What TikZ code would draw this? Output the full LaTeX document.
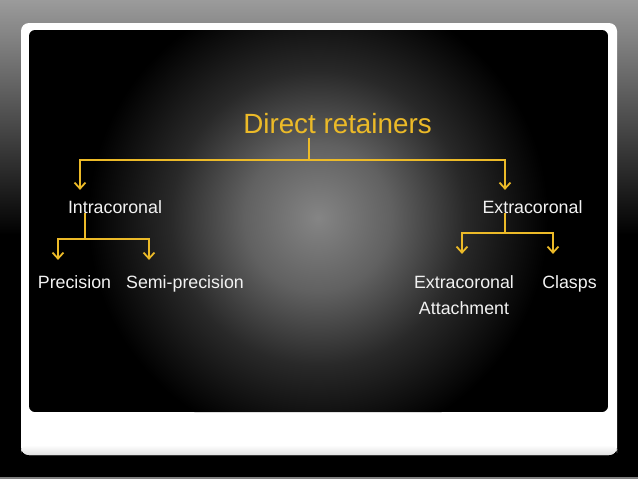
\documentclass[tikz,border=0pt]{standalone}
\usepackage{fontspec}
\setmainfont{Liberation Sans}
\usetikzlibrary{arrows.meta,calc}
\definecolor{gold}{RGB}{236,186,40}
\definecolor{bgtop}{RGB}{155,155,155}
\definecolor{txt}{RGB}{242,242,242}
\pgfdeclareradialshading{glow}{\pgfpoint{0bp}{0bp}}{rgb(0bp)=(0.52,0.52,0.52); rgb(8bp)=(0.38,0.38,0.38); rgb(16bp)=(0.16,0.16,0.16); rgb(25bp)=(0,0,0); rgb(50bp)=(0,0,0)}
\tikzset{
  lbl/.style={text=txt, font=\fontsize{17.8}{26}\selectfont, inner sep=0pt, anchor=base, align=center},
  ttl/.style={text=gold, font=\fontsize{27.8}{32}\selectfont, inner sep=0pt, anchor=base},
  conn/.style={draw=gold, line width=1.8pt},
  arr/.style={conn, -{Straight Barb[length=6pt,width=11pt,line width=1.8pt]}},
}
\begin{document}
\begin{tikzpicture}[x=1pt,y=-1pt]
\useasboundingbox (0,0) rectangle (638,479);
% background
\shade[top color=bgtop, bottom color=black] (0,0) rectangle (638,235);
\fill[black] (0,234) rectangle (638,477);
\fill[gray] (0,477) rectangle (638,479);
% white card
\fill[white, rounded corners=8pt] (21,23) rectangle (617,455);
\shade[top color=white, bottom color=black!12, rounded corners=8pt] (21,445) rectangle (617,455);
% inner black panel with glow
\begin{scope}
  \clip[rounded corners=6pt] (29,30) rectangle (608,412);
  \fill[black] (29,30) rectangle (608,412);
  \shade[shading=glow] (318,218) circle (230pt);
\end{scope}
% nodes
\node[ttl] (title) at (337.5,133) {Direct retainers};
\node[lbl] (intra) at (115,213) {Intracoronal};
\node[lbl] (extra) at (532.5,213) {Extracoronal};
\node[lbl] (prec) at (74.5,288) {Precision};
\node[lbl] (semi) at (185,288) {Semi-precision};
\node[lbl] (eca) at (464,314) {Extracoronal\\Attachment};
\node[lbl] (clasps) at (569.5,288) {Clasps};
% junction coordinates
\coordinate (jT) at (309,160);
\coordinate (aI) at (80,160);
\coordinate (aE) at (505,160);
\coordinate (jI) at (85,239);
\coordinate (aP) at (58,239);
\coordinate (aS) at (149,239);
\coordinate (jE) at (505,233);
\coordinate (aA) at (462,233);
\coordinate (aC) at (553,233);
% connectors
\draw[conn] ([yshift=-5pt]title.south -| jT) -- (jT);
\draw[arr, shorten >=10pt] (jT) -| (aI |- intra.north);
\draw[arr, shorten >=10pt] (jT) -| (aE |- extra.north);
\draw[conn] (intra.base -| jI) -- (jI);
\draw[arr, shorten >=15pt] (jI) -| (aP |- prec.north);
\draw[arr, shorten >=15pt] (jI) -| (aS |- semi.north);
\draw[conn] (extra.base -| jE) -- (jE);
\draw[arr, shorten >=21pt] (jE) -| (aA |- clasps.north);
\draw[arr, shorten >=21pt] (jE) -| (aC |- clasps.north);
\end{tikzpicture}
\end{document}
